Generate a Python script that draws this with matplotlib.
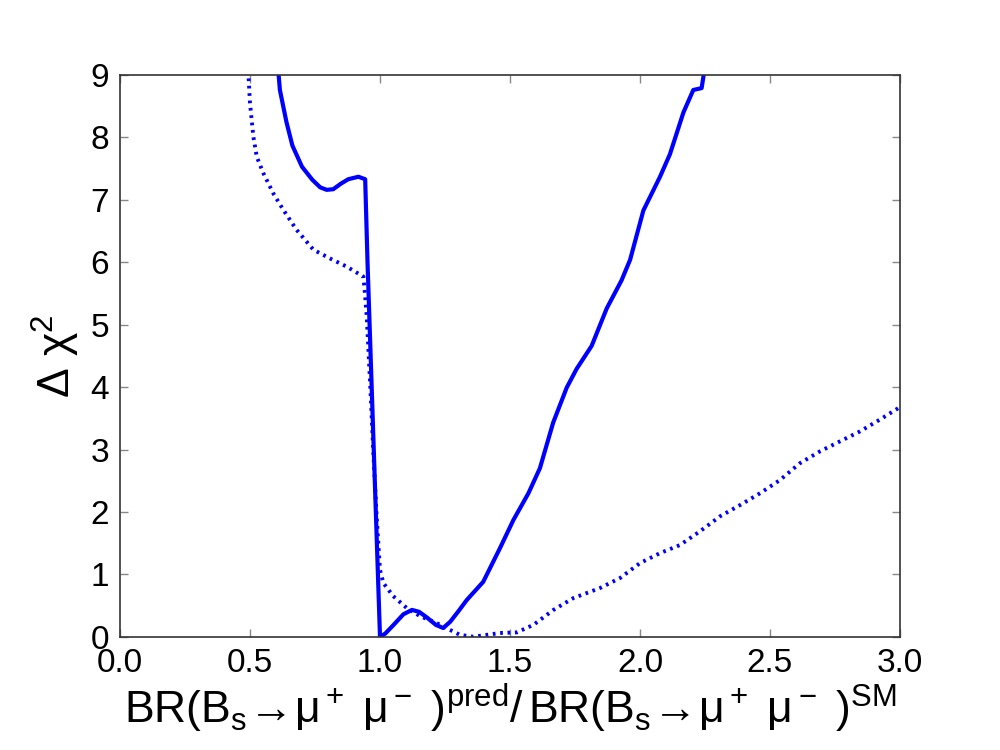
import matplotlib
matplotlib.use("Agg")
import matplotlib.pyplot as plt

fam = "Liberation Sans"
plt.rcParams['font.family'] = [fam, 'DejaVu Sans']
plt.rcParams['mathtext.fontset'] = 'custom'
plt.rcParams['mathtext.rm'] = fam
plt.rcParams['mathtext.it'] = fam
plt.rcParams['mathtext.bf'] = fam
plt.rcParams['mathtext.sf'] = fam
plt.rcParams['mathtext.fallback'] = 'stixsans'

# Solid curve
solid_x = [0.600, 0.615, 0.640, 0.663, 0.700, 0.740, 0.770, 0.795, 0.820, 0.850,
           0.878, 0.917, 0.943, 0.952, 1.000, 1.020, 1.050, 1.090, 1.123, 1.150,
           1.180, 1.215, 1.243, 1.270, 1.300, 1.334, 1.397, 1.4615, 1.513, 1.571,
           1.615, 1.666, 1.718, 1.756, 1.814, 1.872, 1.929, 1.962, 2.013, 2.077,
           2.115, 2.167, 2.205, 2.237, 2.260]
solid_y = [9.50, 8.76, 8.25, 7.87, 7.53, 7.32, 7.20, 7.16, 7.17, 7.26,
           7.33, 7.37, 7.33, 6.00, 0.00, 0.05, 0.18, 0.36, 0.43, 0.40,
           0.31, 0.19, 0.14, 0.24, 0.40, 0.59, 0.88, 1.42, 1.87, 2.30,
           2.70, 3.43, 3.99, 4.29, 4.66, 5.26, 5.71, 6.04, 6.83, 7.37,
           7.73, 8.40, 8.76, 8.79, 9.40]

# Dotted curve
dotted_x = [0.490, 0.500, 0.513, 0.526, 0.551, 0.590, 0.628, 0.679, 0.744, 0.808,
            0.872, 0.936, 0.942, 0.949, 0.962, 0.974, 0.987, 1.000, 1.013, 1.051,
            1.103, 1.154, 1.218, 1.269, 1.308, 1.359, 1.4615, 1.526, 1.590, 1.667,
            1.744, 1.846, 1.923, 2.000, 2.077, 2.154, 2.231, 2.308, 2.385, 2.462,
            2.538, 2.615, 2.692, 2.769, 2.846, 2.923, 3.000]
dotted_y = [9.30, 8.55, 8.01, 7.69, 7.43, 7.10, 6.84, 6.52, 6.20, 6.06,
            5.93, 5.77, 5.50, 5.13, 4.06, 2.99, 1.93, 1.07, 0.86, 0.65,
            0.46, 0.33, 0.22, 0.11, 0.03, 0.00, 0.06, 0.07, 0.19, 0.43,
            0.62, 0.78, 0.94, 1.18, 1.34, 1.47, 1.69, 1.93, 2.11, 2.30,
            2.51, 2.78, 2.97, 3.13, 3.29, 3.48, 3.68]

xticks = [0.0, 0.5, 1.0, 1.5, 2.0, 2.5, 3.0]
yticks = [0, 1, 2, 3, 4, 5, 6, 7, 8, 9]

fig = plt.figure(figsize=(10, 7.5), dpi=100)
ax = fig.add_axes([0.12, 0.151, 0.78, 0.749])
ax.plot(solid_x, solid_y, color='blue', lw=3.0, solid_joinstyle='round')
ax.plot(dotted_x, dotted_y, color='blue', lw=2.8, ls=(0, (0.7, 1.2)))
ax.set_xlim(0, 3)
ax.set_ylim(0, 9)
ax.set_xticks(xticks)
ax.set_xticklabels([f"{v:.1f}" for v in xticks])
ax.set_yticks(yticks)
ax.tick_params(direction='in', length=6, width=1, color='#888888',
               top=True, right=True, labelsize=24, pad=8)
for s in ax.spines.values():
    s.set_color('#333333')
    s.set_linewidth(1.2)
ax.set_xlabel(r'$\mathrm{BR(B_s\!\rightarrow\!\mu^+\ \mu^-\ )^{pred}/\,BR(B_s\!\rightarrow\!\mu^+\ \mu^-\ )^{SM}}$',
              fontsize=32, labelpad=2)
ax.set_ylabel(r'$\mathrm{\Delta\ \chi^2}$', fontsize=32, labelpad=6)
fig.savefig('out.png', dpi=100)
